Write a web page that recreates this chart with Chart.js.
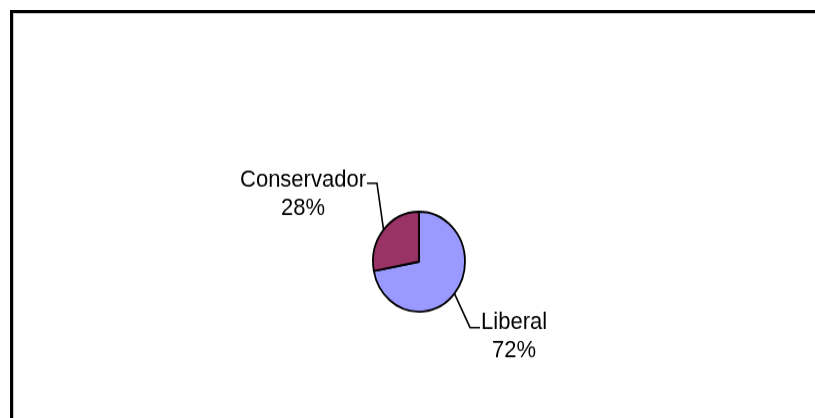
<!DOCTYPE html>
<html>
<head>
<meta charset="utf-8">
<script src="https://cdn.jsdelivr.net/npm/chart.js@4/dist/chart.umd.min.js"></script>
<style>
  html, body { margin: 0; padding: 0; background: #fff; width: 815px; height: 418px; overflow: hidden; }
  #frame { position: absolute; left: 10px; top: 10px; right: 0; bottom: 0;
           border-top: 3px solid #000; border-left: 3px solid #000;
           box-shadow: inset 1px 1px 0 #c8c8c8; }
  #wrap { position: absolute; left: 0; top: 0; width: 815px; height: 385px;
          transform: scaleY(1.0857); transform-origin: 0 0; }
</style>
</head>
<body>
<div id="frame"></div>
<div id="wrap"><canvas id="c"></canvas></div>
<script>
const categories = ['Liberal', 'Conservador'];
const values = [72, 28];
const percentLabels = ['72%', '28%'];
const sliceColors = ['#9999FF', '#993366'];

// Leader-line geometry per label (elbow offset from slice edge, horizontal tail length)
const leaderStyle = [
  { elbow: [15.6, 31.4], tail: 10, align: 'left', textDy: 1 },
  { elbow: [-6.6, -43], tail: -10, align: 'right', textDy: 3.4 }
];

const labelPlugin = {
  id: 'excelLabels',
  afterDraw(chart) {
    const ctx = chart.ctx;
    const meta = chart.getDatasetMeta(0);
    ctx.save();
    ctx.font = '22px "Liberation Sans", Arial, sans-serif';
    ctx.fillStyle = '#000';
    ctx.strokeStyle = '#000';
    ctx.lineWidth = 1.6;
    meta.data.forEach((arc, i) => {
      const p = arc.getProps(['x', 'y', 'startAngle', 'endAngle', 'outerRadius'], true);
      const mid = (p.startAngle + p.endAngle) / 2;
      const ex = p.x + Math.cos(mid) * p.outerRadius;
      const ey = p.y + Math.sin(mid) * p.outerRadius;
      const s = leaderStyle[i];
      const bx = ex + s.elbow[0];
      const by = ey + s.elbow[1];
      const tx = bx + s.tail;
      ctx.beginPath();
      ctx.moveTo(ex, ey);
      ctx.lineTo(bx, by);
      ctx.lineTo(tx, by);
      ctx.stroke();
      const name = categories[i];
      const w = ctx.measureText(name).width;
      const left = s.align === 'left' ? tx + 1 : tx - 1 - w;
      const baseline = by + s.textDy;
      ctx.textAlign = 'left';
      ctx.textBaseline = 'alphabetic';
      ctx.fillText(name, left, baseline);
      ctx.textAlign = 'center';
      ctx.fillText(percentLabels[i], left + w / 2, baseline + 25.8);
    });
    ctx.restore();
  }
};

new Chart(document.getElementById('c'), {
  type: 'pie',
  data: {
    labels: categories,
    datasets: [{
      data: values,
      backgroundColor: sliceColors,
      borderColor: '#000',
      borderWidth: 1.8,
      radius: 46
    }]
  },
  options: {
    responsive: true,
    maintainAspectRatio: false,
    animation: false,
    layout: { padding: { left: 323, right: 300, top: 147, bottom: 50 } },
    plugins: { legend: { display: false }, tooltip: { enabled: false } }
  },
  plugins: [labelPlugin]
});
</script>
</body>
</html>
